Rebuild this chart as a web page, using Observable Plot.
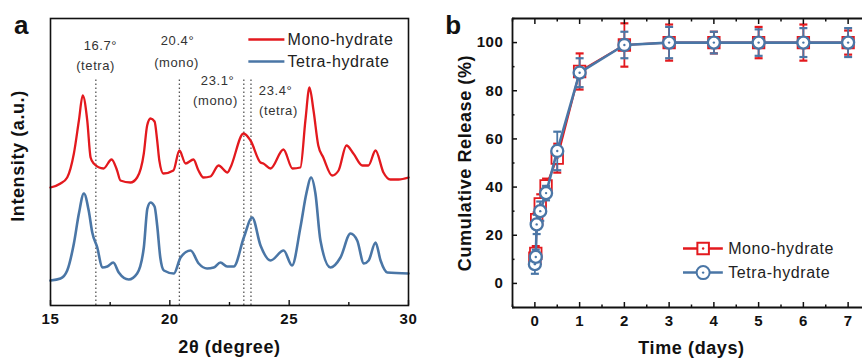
<!DOCTYPE html>
<html>
<head>
<meta charset="utf-8">
<script src="https://cdn.jsdelivr.net/npm/d3@7"></script>
<script src="https://cdn.jsdelivr.net/npm/@observablehq/plot@0.6"></script>
<style>
  html, body { margin: 0; padding: 0; background: #fff; }
  #wrap { position: relative; width: 862px; height: 364px; overflow: hidden; background: #fff; }
  #wrap > svg { position: absolute; top: 0; }
</style>
</head>
<body>
<div id="wrap"></div>
<script>
// ---------- Panel a: XRD patterns ----------
const monoTheta = [15.00,15.42,15.70,15.98,16.19,16.35,16.54,16.68,16.81,17.22,17.56,17.79,17.93,18.35,18.63,18.91,19.05,19.19,19.36,19.47,19.56,19.73,20.15,20.40,20.66,20.99,21.20,21.41,21.70,22.04,22.42,22.54,23.09,23.38,23.80,23.92,24.22,24.76,25.14,25.47,25.68,25.85,26.02,26.22,26.43,26.80,27.07,27.40,27.69,28.07,28.32,28.62,28.95,29.24,29.58,30.00];
const monoIntensity = [118,122,128,152,185,210,185,148,142,137,146,135,125,123,128,152,180,187,184,165,145,132,135,155,142,146,135,128,129,140,133,138,172,165,143,142,137,156,137,138,185,218,195,160,148,130,135,160,152,140,140,155,133,126,126,128];
const tetraTheta = [15.00,15.42,15.70,15.98,16.19,16.40,16.60,16.75,16.96,17.17,17.38,17.63,17.86,18.28,18.63,18.91,19.06,19.19,19.36,19.47,19.60,19.75,20.17,20.45,20.87,21.21,21.56,21.84,22.12,22.40,22.68,23.10,23.45,23.80,24.22,24.77,25.12,25.47,25.72,25.92,26.10,26.31,26.73,27.15,27.57,27.85,28.13,28.33,28.62,28.83,29.11,30.00];
const tetraIntensity = [25,27,35,62,92,112,95,73,58,38,39,43,33,26,32,58,97,103,99,80,48,35,32,48,55,42,37,38,43,39,39,68,88,60,45,55,40,78,112,128,112,65,38,48,72,65,42,45,63,45,33,32];

const peakLines = [16.9, 20.4, 23.1, 23.4];
const peakLineTop = 227;
const annoText = ["16.7°", "(tetra)", "20.4°", "(mono)", "23.1°", "(mono)", "23.4°", "(tetra)"];
const annoTheta = [17.09, 16.89, 20.32, 20.28, 22.00, 21.91, 24.43, 24.55];
const annoIntensity = [260, 240, 265, 243, 225, 205, 215, 195];

const xrdTicks = [15, 20, 25, 30];
const xrdMinorTicks = [17.5, 22.5, 27.5];

const seriesNames = ["Mono-hydrate", "Tetra-hydrate"];

// ---------- Panel b: cumulative release ----------
const timeDays = [0, 0.02, 0.04, 0.12, 0.25, 0.5, 1, 2, 3, 4, 5, 6, 7];
const monoRelease = [10.5, 12.5, 26.5, 33, 40.5, 52, 88, 99, 100, 100, 100, 100, 100];
const monoError = [3, 3, 3, 4, 3, 6, 7.5, 9, 7.5, 4.5, 6.5, 7.5, 5];
const tetraRelease = [8, 11, 24.5, 30, 37.5, 55, 87.5, 99, 100, 100, 100, 100, 100];
const tetraError = [4, 3, 4, 4, 3, 8, 6, 5.5, 6.5, 4.5, 5.5, 6, 6];

const timeTicks = [0, 1, 2, 3, 4, 5, 6, 7];
const timeMinorTicks = [-0.5, 0.5, 1.5, 2.5, 3.5, 4.5, 5.5, 6.5, 7.5];
const releaseTicks = [0, 20, 40, 60, 80, 100];
const releaseMinorTicks = [-10, 10, 30, 50, 70, 90, 110];

const RED = "#e3191e";
const BLUE = "#4a76a6";
const FONT = "Liberation Sans, Arial, sans-serif";

const mono = monoTheta.map((t, i) => ({t, v: monoIntensity[i]}));
const tetra = tetraTheta.map((t, i) => ({t, v: tetraIntensity[i]}));
const annos = annoText.map((s, i) => ({s, t: annoTheta[i], v: annoIntensity[i]}));
const legendA = [
  {name: seriesNames[0], x1: 23.29, x2: 24.80, tx: 24.93, y: 266, c: RED},
  {name: seriesNames[1], x1: 23.29, x2: 24.80, tx: 24.93, y: 244, c: BLUE}
];
const blank = () => "";

const plotA = Plot.plot({
  width: 430, height: 364,
  marginLeft: 50, marginRight: 22, marginTop: 18, marginBottom: 59,
  x: {domain: [15, 30]},
  y: {domain: [0, 287], axis: null},
  style: {fontFamily: FONT, fontSize: "15px", fontWeight: "bold", color: "#111", background: "transparent", letterSpacing: "0.6px"},
  marks: [
    Plot.ruleX(peakLines, {x: d => d, y1: 0, y2: peakLineTop, stroke: "#555", strokeWidth: 1.3, strokeDasharray: "1.6,2.4"}),
    Plot.line(mono, {x: "t", y: "v", stroke: RED, strokeWidth: 2.3, curve: "monotone-x"}),
    Plot.line(tetra, {x: "t", y: "v", stroke: BLUE, strokeWidth: 2.6, curve: "monotone-x"}),
    Plot.text(annos, {x: "t", y: "v", text: "s", fontSize: 13, fontWeight: "normal", fill: "#333"}),
    Plot.link(legendA, {x1: "x1", x2: "x2", y1: "y", y2: "y", stroke: "c", strokeWidth: 2.5}),
    Plot.text(legendA, {x: "tx", y: "y", text: "name", textAnchor: "start", fontSize: 16, fontWeight: "normal", fill: "#222"}),
    Plot.frame({stroke: "#111", strokeWidth: 1.6}),
    Plot.axisX({ticks: xrdTicks, tickSize: -5, tickFormat: blank, strokeWidth: 1.4}),
    Plot.axisX({ticks: xrdMinorTicks, tickSize: -3, tickFormat: blank, strokeWidth: 1.4}),
    Plot.axisX({ticks: xrdTicks, tickSize: 0, tickPadding: 8, tickFormat: d => String(d)}),
    Plot.text(["Intensity (a.u.)"], {frameAnchor: "left", dx: -32, dy: -6, rotate: -90, textAnchor: "middle", lineAnchor: "middle", fontSize: 18, fontWeight: "bold"}),
    Plot.text(["2θ (degree)"], {frameAnchor: "bottom", dy: 47, textAnchor: "middle", fontSize: 18, fontWeight: "bold"}),
    Plot.text(["a"], {frameAnchor: "top-left", dx: -29, dy: 7, textAnchor: "middle", lineAnchor: "middle", fontSize: 26, fontWeight: "bold"})
  ]
});
plotA.style.left = "0px";

const rowsMono = timeDays.map((t, i) => ({t, v: monoRelease[i], e: monoError[i]}));
const rowsTetra = timeDays.map((t, i) => ({t, v: tetraRelease[i], e: tetraError[i]}));
const capSymbol = {draw(ctx, size) { const w = Math.sqrt(size / Math.PI); ctx.moveTo(-w, 0); ctx.lineTo(w, 0); }};
const legendB = [
  {name: seriesNames[0], x1: 3.31, x2: 4.20, mx: 3.76, tx: 4.32, y: 14.5, c: RED, sym: "square"},
  {name: seriesNames[1], x1: 3.31, x2: 4.20, mx: 3.76, tx: 4.32, y: 4.5, c: BLUE, sym: "circle"}
];

const plotB = Plot.plot({
  width: 440, height: 364,
  marginLeft: 82, marginRight: 0, marginTop: 18, marginBottom: 57,
  x: {domain: [-0.5, 7.5]},
  y: {domain: [-10, 110]},
  style: {fontFamily: FONT, fontSize: "15px", fontWeight: "bold", color: "#111", background: "transparent", letterSpacing: "0.6px"},
  marks: [
    // mono-hydrate
    Plot.ruleX(rowsMono, {x: "t", y1: d => d.v - d.e, y2: d => d.v + d.e, stroke: RED, strokeWidth: 1.8}),
    Plot.dot(rowsMono, {x: "t", y: d => d.v + d.e, symbol: capSymbol, r: 4, stroke: RED, strokeWidth: 2.2}),
    Plot.dot(rowsMono, {x: "t", y: d => d.v - d.e, symbol: capSymbol, r: 4, stroke: RED, strokeWidth: 2.2}),
    Plot.line(rowsMono, {x: "t", y: "v", stroke: RED, strokeWidth: 2}),
    Plot.dot(rowsMono, {x: "t", y: "v", symbol: "square", r: 6.5, fill: "white", stroke: RED, strokeWidth: 1.8}),
    Plot.dot(rowsMono, {x: "t", y: "v", r: 1.2, fill: RED}),
    // tetra-hydrate
    Plot.ruleX(rowsTetra, {x: "t", y1: d => d.v - d.e, y2: d => d.v + d.e, stroke: BLUE, strokeWidth: 1.8}),
    Plot.dot(rowsTetra, {x: "t", y: d => d.v + d.e, symbol: capSymbol, r: 4, stroke: BLUE, strokeWidth: 2.2}),
    Plot.dot(rowsTetra, {x: "t", y: d => d.v - d.e, symbol: capSymbol, r: 4, stroke: BLUE, strokeWidth: 2.2}),
    Plot.line(rowsTetra, {x: "t", y: "v", stroke: BLUE, strokeWidth: 2.6}),
    Plot.dot(rowsTetra, {x: "t", y: "v", r: 6, fill: "white", stroke: BLUE, strokeWidth: 2.3}),
    Plot.dot(rowsTetra, {x: "t", y: "v", r: 1.2, fill: BLUE}),
    // legend
    Plot.link(legendB, {x1: "x1", x2: "x2", y1: "y", y2: "y", stroke: "c", strokeWidth: 2.5}),
    Plot.dot(legendB, {x: "mx", y: "y", symbol: "sym", r: 6.5, fill: "white", stroke: "c", strokeWidth: 2}),
    Plot.dot(legendB, {x: "mx", y: "y", r: 1.2, fill: "c"}),
    Plot.text(legendB, {x: "tx", y: "y", text: "name", textAnchor: "start", fontSize: 16, fontWeight: "normal", fill: "#222"}),
    // frame and axes
    Plot.ruleY([-10], {stroke: "#111", strokeWidth: 1.8}),
    Plot.ruleY([110], {stroke: "#111", strokeWidth: 1.8}),
    Plot.ruleX([-0.5], {stroke: "#111", strokeWidth: 1.8}),
    Plot.axisX({anchor: "bottom", ticks: timeTicks, tickSize: -5, tickFormat: blank, strokeWidth: 1.5}),
    Plot.axisX({anchor: "bottom", ticks: timeMinorTicks, tickSize: -2.5, tickFormat: blank, strokeWidth: 1.5}),
    Plot.axisX({anchor: "top", ticks: timeTicks, tickSize: -5, tickFormat: blank, strokeWidth: 1.5}),
    Plot.axisX({anchor: "top", ticks: timeMinorTicks, tickSize: -2.5, tickFormat: blank, strokeWidth: 1.5}),
    Plot.axisX({anchor: "bottom", ticks: timeTicks, tickSize: 0, tickPadding: 8, tickFormat: d => String(d)}),
    Plot.axisY({anchor: "left", ticks: releaseTicks, tickSize: -5, tickFormat: blank, strokeWidth: 1.5}),
    Plot.axisY({anchor: "left", ticks: releaseMinorTicks, tickSize: -2.5, tickFormat: blank, strokeWidth: 1.5}),
    Plot.axisY({anchor: "left", ticks: releaseTicks, tickSize: 0, tickPadding: 9, tickFormat: d => String(d)}),
    Plot.text(["Cumulative Release (%)"], {frameAnchor: "left", dx: -47, rotate: -90, textAnchor: "middle", lineAnchor: "middle", fontSize: 18, fontWeight: "bold"}),
    Plot.text(["Time (days)"], {frameAnchor: "bottom", dy: 46, textAnchor: "middle", fontSize: 18, fontWeight: "bold"}),
    Plot.text(["b"], {frameAnchor: "top-left", dx: -59, dy: 7, textAnchor: "middle", lineAnchor: "middle", fontSize: 26, fontWeight: "bold"})
  ]
});
plotB.style.left = "430px";

const wrap = document.getElementById("wrap");
wrap.appendChild(plotA);
wrap.appendChild(plotB);
</script>
</body>
</html>
